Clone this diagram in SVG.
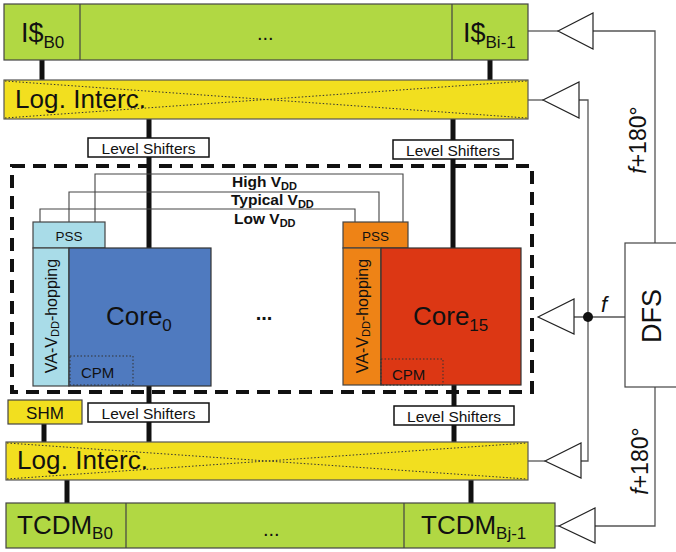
<svg xmlns="http://www.w3.org/2000/svg" width="676" height="552" viewBox="0 0 676 552">
<defs>
<style>
.t{font-family:"Liberation Sans",Arial,sans-serif;fill:#111}
.green{fill:#b1d843;stroke:#444;stroke-width:1.2}
.yel{fill:#f2df1f;stroke:#555;stroke-width:1.2}
.ls{fill:#fff;stroke:#111;stroke-width:1.5}
.bus{stroke:#111;stroke-width:5;fill:none}
.thin{stroke:#555;stroke-width:1.3;fill:none}
.vdd{stroke:#444;stroke-width:1.1;fill:none}
.buf{fill:#fff;stroke:#222;stroke-width:1.2}
.dotx{stroke:#333;stroke-width:1;stroke-dasharray:1.5 2;fill:none}
.cpm{fill:none;stroke:#333;stroke-width:1;stroke-dasharray:1.5 2}
</style>
</defs>

<g id="connectors">
  <line class="bus" x1="42" y1="60" x2="42" y2="80"/>
  <line class="bus" x1="490" y1="60" x2="490" y2="80"/>
  <line class="bus" x1="149" y1="119" x2="149" y2="248"/>
  <line class="bus" x1="453" y1="119" x2="453" y2="248"/>
  <line class="bus" x1="149" y1="386" x2="149" y2="442"/>
  <line class="bus" x1="454" y1="385" x2="454" y2="442"/>
  <line class="bus" x1="44" y1="424" x2="44" y2="442"/>
  <line class="bus" x1="67" y1="480" x2="67" y2="503"/>
  <line class="bus" x1="471" y1="480" x2="471" y2="503"/>
  <polyline class="vdd" points="95,222 95,174 403,174 403,222"/>
  <polyline class="vdd" points="69,222 69,192 379,192 379,222"/>
  <polyline class="vdd" points="40,222 40,209 355,209 355,222"/>
  <polyline class="thin" points="528,31 558,31"/>
  <polyline class="thin" points="593,31 655,31 655,243"/>
  <polyline class="thin" points="655,387 655,526 595,526"/>
  <polyline class="thin" points="559,526 555,526"/>
  <polyline class="thin" points="528,100 543,100"/>
  <polyline class="thin" points="579,100 588,100 588,461 581,461"/>
  <polyline class="thin" points="545,461 528,461"/>
  <polyline class="thin" points="574,317 625,317"/>
  <circle cx="588" cy="317" r="5" fill="#111"/>
</g>

<g id="icache">
  <rect class="green" x="4" y="4" width="524" height="56"/>
  <line x1="80" y1="4" x2="80" y2="60" stroke="#444" stroke-width="1.2"/>
  <line x1="452" y1="4" x2="452" y2="60" stroke="#444" stroke-width="1.2"/>
  <text class="t" x="21" y="42" font-size="27">I$<tspan font-size="17" dy="6">B0</tspan></text>
  <text class="t" x="257" y="40" font-size="20">...</text>
  <text class="t" x="463" y="42" font-size="27">I$<tspan font-size="17" dy="6">Bi-1</tspan></text>
</g>

<g id="logint-top">
  <rect class="yel" x="4" y="80" width="524" height="39"/>
  <line class="dotx" x1="5" y1="81" x2="527" y2="118"/>
  <line class="dotx" x1="5" y1="118" x2="527" y2="81"/>
  <text class="t" x="15" y="108" font-size="26" textLength="131">Log. Interc.</text>
</g>

<g id="ls-top-left">
  <rect class="ls" x="88" y="138" width="121" height="19"/>
  <text class="t" x="148.5" y="153.5" font-size="15.5" text-anchor="middle">Level Shifters</text>
</g>
<g id="ls-top-right">
  <rect class="ls" x="393" y="140" width="120" height="19"/>
  <text class="t" x="453" y="155.5" font-size="15.5" text-anchor="middle">Level Shifters</text>
</g>

<g id="cluster-boundary">
  <rect x="12" y="166" width="520" height="226" fill="none" stroke="#111" stroke-width="4" stroke-dasharray="13 8"/>
</g>

<g id="vdd-labels">
  <text class="t" x="232" y="187" font-size="15.5" font-weight="bold">High V<tspan font-size="11" dy="3">DD</tspan></text>
  <text class="t" x="231" y="205" font-size="15.5" font-weight="bold">Typical V<tspan font-size="11" dy="3">DD</tspan></text>
  <text class="t" x="234" y="224" font-size="15.5" font-weight="bold">Low V<tspan font-size="11" dy="3">DD</tspan></text>
</g>

<g id="core0">
  <rect x="33" y="222" width="72" height="26" fill="#a9dce8" stroke="#444" stroke-width="1.2"/>
  <text class="t" x="69" y="240.5" font-size="13.5" text-anchor="middle">PSS</text>
  <rect x="33" y="248" width="36" height="138" fill="#a9dce8" stroke="#444" stroke-width="1.2"/>
  <text class="t" transform="translate(57,316) rotate(-90)" font-size="16" text-anchor="middle">VA-V<tspan font-size="11" dy="2">DD</tspan><tspan dy="-2">-hopping</tspan></text>
  <rect x="69" y="248" width="142" height="138" fill="#4f7abf" stroke="#333" stroke-width="1.2"/>
  <rect class="cpm" x="70" y="356" width="63" height="29"/>
  <text class="t" x="81" y="378" font-size="15">CPM</text>
  <text class="t" x="106" y="325" font-size="26">Core<tspan font-size="17" dy="6">0</tspan></text>
</g>

<g id="dots-mid">
  <text class="t" x="264" y="320" font-size="20" font-weight="bold" text-anchor="middle">...</text>
</g>

<g id="core15">
  <rect x="343" y="222" width="65" height="26" fill="#ee8316" stroke="#444" stroke-width="1.2"/>
  <text class="t" x="375.5" y="240.5" font-size="13.5" text-anchor="middle">PSS</text>
  <rect x="343" y="248" width="38" height="137" fill="#ee8316" stroke="#444" stroke-width="1.2"/>
  <text class="t" transform="translate(368,316) rotate(-90)" font-size="16" text-anchor="middle">VA-V<tspan font-size="11" dy="2">DD</tspan><tspan dy="-2">-hopping</tspan></text>
  <rect x="381" y="248" width="140" height="137" fill="#dc3714" stroke="#333" stroke-width="1.2"/>
  <rect class="cpm" x="381" y="359" width="62" height="26"/>
  <text class="t" x="392" y="380" font-size="15">CPM</text>
  <text class="t" x="413" y="325" font-size="26">Core<tspan font-size="17" dy="6">15</tspan></text>
</g>

<g id="shm">
  <rect x="8" y="400" width="74" height="24" fill="#f2df1f" stroke="#444" stroke-width="1.2"/>
  <text class="t" x="45" y="419" font-size="17" text-anchor="middle">SHM</text>
</g>

<g id="ls-bot-left">
  <rect class="ls" x="88" y="403" width="121" height="19"/>
  <text class="t" x="148.5" y="418.5" font-size="15.5" text-anchor="middle">Level Shifters</text>
</g>
<g id="ls-bot-right">
  <rect class="ls" x="394" y="406" width="120" height="19"/>
  <text class="t" x="454" y="421.5" font-size="15.5" text-anchor="middle">Level Shifters</text>
</g>

<g id="logint-bot">
  <rect class="yel" x="6" y="442" width="522" height="38"/>
  <line class="dotx" x1="7" y1="443" x2="527" y2="479"/>
  <line class="dotx" x1="7" y1="479" x2="527" y2="443"/>
  <text class="t" x="17" y="469" font-size="26" textLength="131">Log. Interc.</text>
</g>

<g id="tcdm">
  <rect class="green" x="6" y="503" width="549" height="45"/>
  <line x1="126" y1="503" x2="126" y2="548" stroke="#444" stroke-width="1.2"/>
  <line x1="404" y1="503" x2="404" y2="548" stroke="#444" stroke-width="1.2"/>
  <text class="t" x="17" y="534" font-size="26">TCDM<tspan font-size="17" dy="5">B0</tspan></text>
  <text class="t" x="263" y="536" font-size="20">...</text>
  <text class="t" x="421" y="534" font-size="26">TCDM<tspan font-size="17" dy="5">Bj-1</tspan></text>
</g>

<g id="buffers">
  <polygon class="buf" points="558,31 593,13 593,49"/>
  <polygon class="buf" points="543,100 579,82 579,118"/>
  <polygon class="buf" points="538,317 574,299 574,334"/>
  <polygon class="buf" points="545,461 581,443 581,478"/>
  <polygon class="buf" points="559,526 595,508 595,543"/>
</g>

<g id="dfs">
  <rect x="625" y="243" width="60" height="144" fill="#fff" stroke="#444" stroke-width="1.2"/>
  <text class="t" transform="translate(661,316) rotate(-90)" font-size="27" text-anchor="middle">DFS</text>
</g>

<g id="clock-labels">
  <text class="t" x="601" y="312" font-size="22" font-style="italic">f</text>
  <text class="t" transform="translate(646,140) rotate(-90)" font-size="23" text-anchor="middle"><tspan font-style="italic">f</tspan>+180°</text>
  <text class="t" transform="translate(648,461) rotate(-90)" font-size="23" text-anchor="middle"><tspan font-style="italic">f</tspan>+180°</text>
</g>
</svg>
